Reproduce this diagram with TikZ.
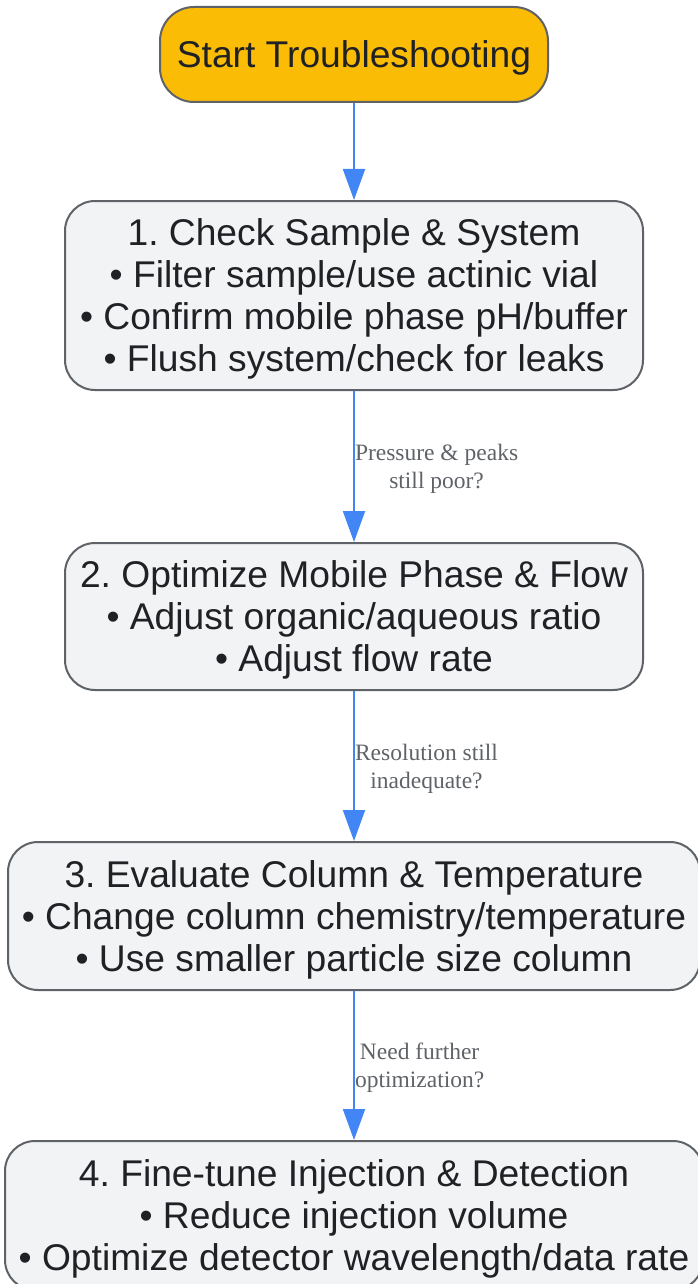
\documentclass[tikz,border=0pt]{standalone}
\usepackage{fontspec}
\setmainfont{Liberation Sans}
\newfontfamily\lblfont{Liberation Serif}
\usetikzlibrary{arrows.meta}
\definecolor{startyellow}{HTML}{FBBC05}
\definecolor{boxgray}{HTML}{F1F3F4}
\definecolor{linegray}{HTML}{5F6368}
\definecolor{flowblue}{HTML}{4285F4}
\definecolor{textdark}{HTML}{202124}
\frenchspacing
\begin{document}
\begin{tikzpicture}[x=1pt, y=-1pt,
    every node/.style={align=center, text=textdark, font=\fontsize{37.2}{42}\selectfont, inner sep=0pt},
    startnode/.style={draw=linegray, line width=2pt, fill=startyellow, rounded corners=34pt, minimum width=388pt, minimum height=95pt, text depth=-4pt},
    stepbox/.style={draw=linegray, line width=2pt, fill=boxgray, rounded corners=30pt, text depth=-15pt},
    flow/.style={draw=flowblue, line width=2pt, -{Triangle[length=31pt, width=22pt]}},
    lbl/.style={anchor=west, text=linegray, text depth=-9pt, font=\lblfont\fontsize{23.5}{28}\selectfont}]
            \useasboundingbox (0,0) rectangle (698,1284);

            % Nodes
            \node[startnode] (s) at (354,54.5) {Start Troubleshooting};
            \node[stepbox, minimum width=578pt, minimum height=189pt] (1) at (354,295.5)
                {1. Check Sample \& System\\ • Filter sample/use actinic vial\\ • Confirm mobile phase pH/buffer\\ • Flush system/check for leaks};
            \node[stepbox, minimum width=578pt, minimum height=147pt] (2) at (354,616.5)
                {2. Optimize Mobile Phase \& Flow\\ • Adjust organic/aqueous ratio\\ • Adjust flow rate};
            \node[stepbox, minimum width=692pt, minimum height=148pt] (3) at (354,916)
                {3. Evaluate Column \& Temperature\\ • Change column chemistry/temperature\\ • Use smaller particle size column};
            \node[stepbox, minimum width=698pt, minimum height=149pt] (4) at (354,1215.5)
                {4. Fine-tune Injection \& Detection\\ • Reduce injection volume\\ • Optimize detector wavelength/data rate};

            % Edges
            \draw[flow] (s) -- (1);
            \draw[flow] (1) -- node[lbl] {Pressure \& peaks\\ still poor?} (2);
            \draw[flow] (2) -- node[lbl] {Resolution still\\ inadequate?} (3);
            \draw[flow] (3) -- node[lbl] {Need further\\ optimization?} (4);
        \end{tikzpicture}
\end{document}
